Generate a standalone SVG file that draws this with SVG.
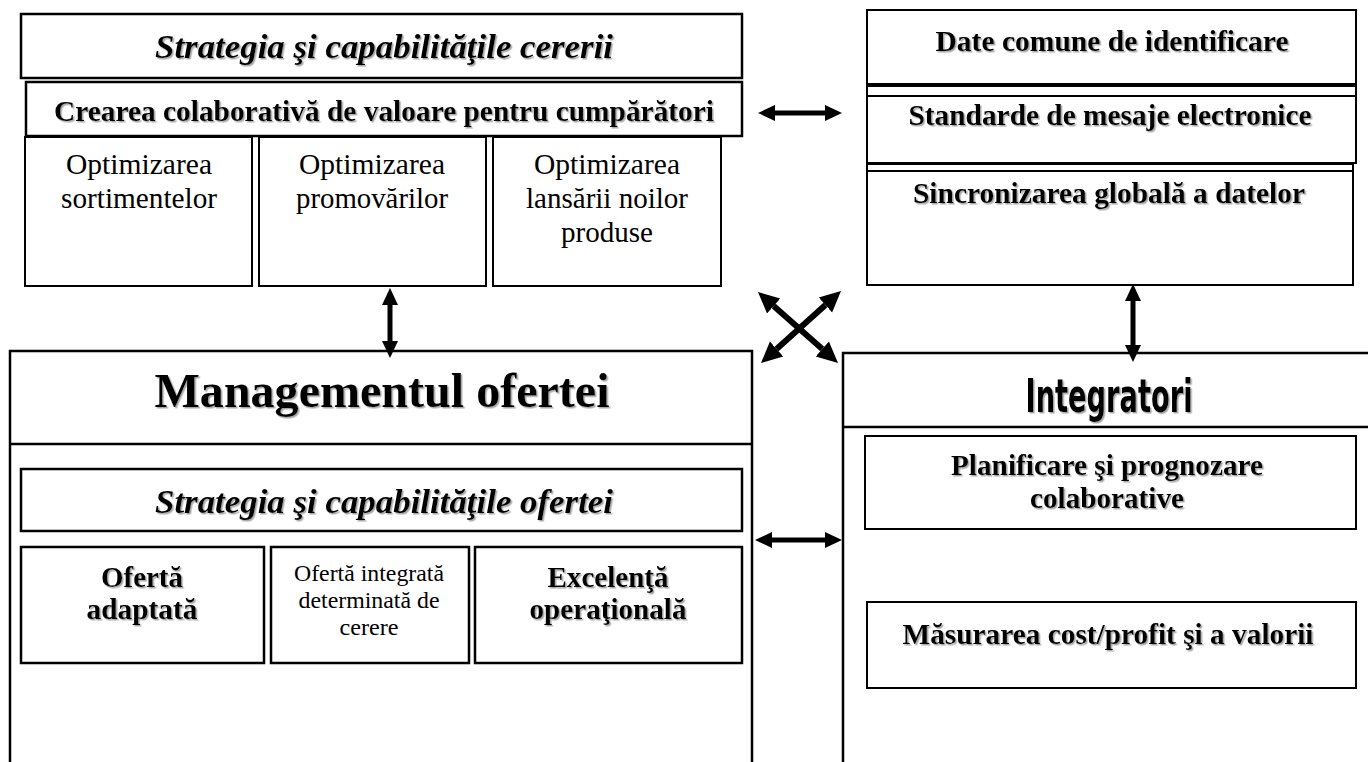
<svg xmlns="http://www.w3.org/2000/svg" width="1368" height="762" viewBox="0 0 1368 762">
<defs>
<style>
.bx{fill:#fff;stroke:#000;stroke-width:2}
.bx3{fill:#fff;stroke:#000;stroke-width:2.5}
.ln{stroke:#000;stroke-width:2;fill:none}
.t{font-family:"Liberation Serif","Times New Roman",serif;fill:#000;text-anchor:middle}
.b{font-weight:bold}
.i{font-style:italic}
.sh{filter:url(#shadow)}
.ar{stroke:#000;stroke-width:5;fill:none;marker-start:url(#ah);marker-end:url(#ah)}
.arx{stroke:#000;stroke-width:6;fill:none;marker-start:url(#ahx);marker-end:url(#ahx)}
</style>
<filter id="shadow" x="-5%" y="-20%" width="110%" height="140%">
<feDropShadow dx="1.5" dy="1.5" stdDeviation="0.6" flood-color="#808080" flood-opacity="0.7"/>
</filter>
<marker id="ah" markerUnits="userSpaceOnUse" markerWidth="18" markerHeight="18" refX="0" refY="8" orient="auto-start-reverse" viewBox="0 0 18 16">
<path d="M0,0 L17,8 L0,16 z" fill="#000"/>
</marker>
<marker id="ahx" markerUnits="userSpaceOnUse" markerWidth="22" markerHeight="22" refX="0" refY="10" orient="auto-start-reverse" viewBox="0 0 22 20">
<path d="M0,0 L21,10 L0,20 z" fill="#000"/>
</marker>
</defs>
<rect width="1368" height="762" fill="#fff"/>

<g id="cerere">
<rect class="bx3" x="21" y="14" width="721" height="64"/>
<text class="t b i sh" x="384" y="58" font-size="33" textLength="458" lengthAdjust="spacingAndGlyphs">Strategia şi capabilităţile cererii</text>
</g>
<g id="creare">
<rect class="bx3" x="26" y="82" width="716" height="54"/>
<text class="t b sh" x="384" y="121" font-size="29" textLength="660" lengthAdjust="spacingAndGlyphs">Crearea colaborativă de valoare pentru cumpărători</text>
</g>
<g id="opt-sortimente">
<rect class="bx" x="25" y="137" width="227" height="149"/>
<text class="t" x="139" y="174" font-size="29.5" textLength="146" lengthAdjust="spacingAndGlyphs">Optimizarea</text>
<text class="t" x="139" y="208" font-size="29.5" textLength="156" lengthAdjust="spacingAndGlyphs">sortimentelor</text>
</g>
<g id="opt-promovari">
<rect class="bx" x="259" y="137" width="227" height="149"/>
<text class="t" x="372" y="174" font-size="29.5" textLength="146" lengthAdjust="spacingAndGlyphs">Optimizarea</text>
<text class="t" x="372" y="208" font-size="29.5" textLength="152" lengthAdjust="spacingAndGlyphs">promovărilor</text>
</g>
<g id="opt-lansare">
<rect class="bx" x="493" y="137" width="228" height="149"/>
<text class="t" x="607" y="174" font-size="29.5" textLength="146" lengthAdjust="spacingAndGlyphs">Optimizarea</text>
<text class="t" x="607" y="208" font-size="29.5" textLength="162" lengthAdjust="spacingAndGlyphs">lansării noilor</text>
<text class="t" x="607" y="242" font-size="29.5" textLength="92" lengthAdjust="spacingAndGlyphs">produse</text>
</g>

<g id="date-comune">
<rect class="bx" x="867" y="10" width="489" height="74"/>
<text class="t b sh" x="1112" y="51" font-size="29" textLength="353" lengthAdjust="spacingAndGlyphs">Date comune de identificare</text>
</g>
<g id="standarde">
<rect class="bx" x="867" y="86" width="489" height="77"/>
<line class="ln" x1="867" y1="96" x2="1356" y2="96"/>
<text class="t b sh" x="1110" y="125" font-size="29" textLength="403" lengthAdjust="spacingAndGlyphs">Standarde de mesaje electronice</text>
</g>
<g id="sincronizare">
<rect class="bx" x="867" y="164" width="486" height="121"/>
<line class="ln" x1="867" y1="171" x2="1353" y2="171"/>
<text class="t b sh" x="1109" y="203" font-size="29" textLength="392" lengthAdjust="spacingAndGlyphs">Sincronizarea globală a datelor</text>
</g>

<g id="managementul">
<rect class="bx3" x="10" y="351" width="742" height="440"/>
<line class="ln" x1="10" y1="444" x2="752" y2="444" style="stroke-width:2.5"/>
<text class="t b sh" x="382" y="407" font-size="48" textLength="455" lengthAdjust="spacingAndGlyphs">Managementul ofertei</text>
</g>
<g id="strategia-ofertei">
<rect class="bx3" x="21" y="469" width="721" height="62"/>
<text class="t b i sh" x="384" y="513" font-size="33" textLength="458" lengthAdjust="spacingAndGlyphs">Strategia şi capabilităţile ofertei</text>
</g>
<g id="oferta-adaptata">
<rect class="bx3" x="21" y="547" width="243" height="116"/>
<text class="t b sh" x="142" y="587" font-size="29" textLength="82" lengthAdjust="spacingAndGlyphs">Ofertă</text>
<text class="t b sh" x="142" y="619" font-size="29" textLength="111" lengthAdjust="spacingAndGlyphs">adaptată</text>
</g>
<g id="oferta-integrata">
<rect class="bx3" x="271" y="547" width="198" height="116"/>
<text class="t" x="369" y="581" font-size="23.5" textLength="150" lengthAdjust="spacingAndGlyphs">Ofertă integrată</text>
<text class="t" x="369" y="608" font-size="23.5" textLength="141" lengthAdjust="spacingAndGlyphs">determinată de</text>
<text class="t" x="369" y="635" font-size="23.5" textLength="59" lengthAdjust="spacingAndGlyphs">cerere</text>
</g>
<g id="excelenta">
<rect class="bx3" x="475" y="547" width="267" height="116"/>
<text class="t b sh" x="608" y="587" font-size="29" textLength="121" lengthAdjust="spacingAndGlyphs">Excelenţă</text>
<text class="t b sh" x="608" y="619" font-size="29" textLength="157" lengthAdjust="spacingAndGlyphs">operaţională</text>
</g>

<g id="integratori">
<rect class="bx3" x="843" y="353" width="540" height="440"/>
<line class="ln" x1="843" y1="427" x2="1368" y2="427" style="stroke-width:2.5"/>
<text class="sh" x="1109" y="412" font-size="46" font-weight="bold" text-anchor="middle" font-family="'Liberation Sans Narrow','DejaVu Sans Condensed','Roboto',sans-serif" textLength="167" lengthAdjust="spacingAndGlyphs">Integratori</text>
</g>
<g id="planificare">
<rect class="bx" x="865" y="436" width="491" height="93"/>
<text class="t b sh" x="1107" y="475" font-size="29" textLength="312" lengthAdjust="spacingAndGlyphs">Planificare şi prognozare</text>
<text class="t b sh" x="1107" y="508" font-size="29" textLength="154" lengthAdjust="spacingAndGlyphs">colaborative</text>
</g>
<g id="masurarea">
<rect class="bx" x="867" y="602" width="489" height="86"/>
<text class="t b sh" x="1108" y="644" font-size="29" textLength="411" lengthAdjust="spacingAndGlyphs">Măsurarea cost/profit şi a valorii</text>
</g>

<g id="connectors">
<line class="ar" x1="775" y1="113" x2="825" y2="113"/>
<line class="ar" x1="772" y1="540" x2="825" y2="540"/>
<line class="ar" x1="390" y1="305" x2="390" y2="341"/>
<line class="ar" x1="1133" y1="301" x2="1133" y2="345"/>
<line class="arx" x1="773.7" y1="306" x2="822.3" y2="349"/>
<line class="arx" x1="825.4" y1="305" x2="776.6" y2="349"/>
</g>
</svg>
